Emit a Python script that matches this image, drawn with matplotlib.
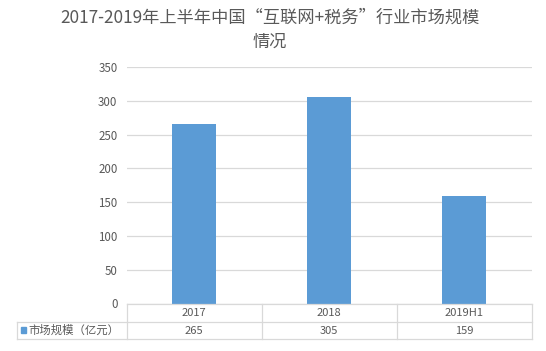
import matplotlib
matplotlib.use("Agg")
import matplotlib.pyplot as plt
from matplotlib.lines import Line2D
from matplotlib.patches import Rectangle

plt.rcParams['font.family'] = ['Noto Sans CJK SC', 'DejaVu Sans']

categories = ["2017", "2018", "2019H1"]
values = [265, 305, 159]
series_name = "市场规模（亿元）"
title = "2017-2019年上半年中国“互联网+税务”行业市场规模\n情况"
yticks = [0, 50, 100, 150, 200, 250, 300, 350]

W, H = 546, 351
fig = plt.figure(figsize=(W / 100, H / 100), dpi=100)

def fx(px):
    return px / W

def fy(py):
    return 1 - py / H

# axes: x 126.5..531.5, y 67..303.5
AX_L, AX_R, AX_T, AX_B = 126.5, 531.5, 67, 303.5
ax = fig.add_axes([fx(AX_L), fy(AX_B), fx(AX_R) - fx(AX_L), fy(AX_T) - fy(AX_B)])
bar_color = "#5b9bd5"
text_color = "#595959"
grid_color = "#d9d9d9"

x = range(len(categories))
ax.bar(x, values, width=0.32, color=bar_color, zorder=3)
ax.set_xlim(-0.5, len(categories) - 0.5)
ax.set_ylim(0, 350)
ax.set_yticks(yticks)
ax.set_yticklabels([str(t) for t in yticks], fontsize=8.3, color=text_color)
ax.tick_params(axis='y', length=0, pad=6.5)
ax.set_xticks([])
for s in ax.spines.values():
    s.set_visible(False)
ax.yaxis.grid(True, color=grid_color, linewidth=0.9, zorder=0)
ax.set_axisbelow(True)

fig.text(fx(270), fy(29.5), title, ha='center', va='center', fontsize=12.4,
         color=text_color, linespacing=1.42)

# data table
lc = "#d9d9d9"
lw = 0.9
col_edges = [AX_L, 262, 396.5, AX_R]
def hline(y, x0, x1):
    fig.add_artist(Line2D([fx(x0), fx(x1)], [fy(y), fy(y)], color=lc, lw=lw))
def vline(xp, y0, y1):
    fig.add_artist(Line2D([fx(xp), fx(xp)], [fy(y0), fy(y1)], color=lc, lw=lw))

hline(AX_B, AX_L, AX_R)
hline(322, 16.5, AX_R)
hline(339, 16.5, AX_R)
for xe in col_edges:
    vline(xe, AX_B, 339)
vline(16.5, 322, 339)

for i, (c, v) in enumerate(zip(categories, values)):
    cx = (col_edges[i] + col_edges[i + 1]) / 2
    fig.text(fx(cx), fy(313), c, ha='center', va='center', fontsize=8, color=text_color)
    fig.text(fx(cx), fy(330.5), str(v), ha='center', va='center', fontsize=8, color=text_color)

fig.add_artist(Rectangle((fx(20.7), fy(332.7)), fx(26.2) - fx(20.7), fy(327.2) - fy(332.7),
                         color=bar_color, transform=fig.transFigure))
fig.text(fx(28), fy(330.5), series_name, ha='left', va='center', fontsize=8.2, color=text_color)

fig.savefig("out.png", dpi=100)
